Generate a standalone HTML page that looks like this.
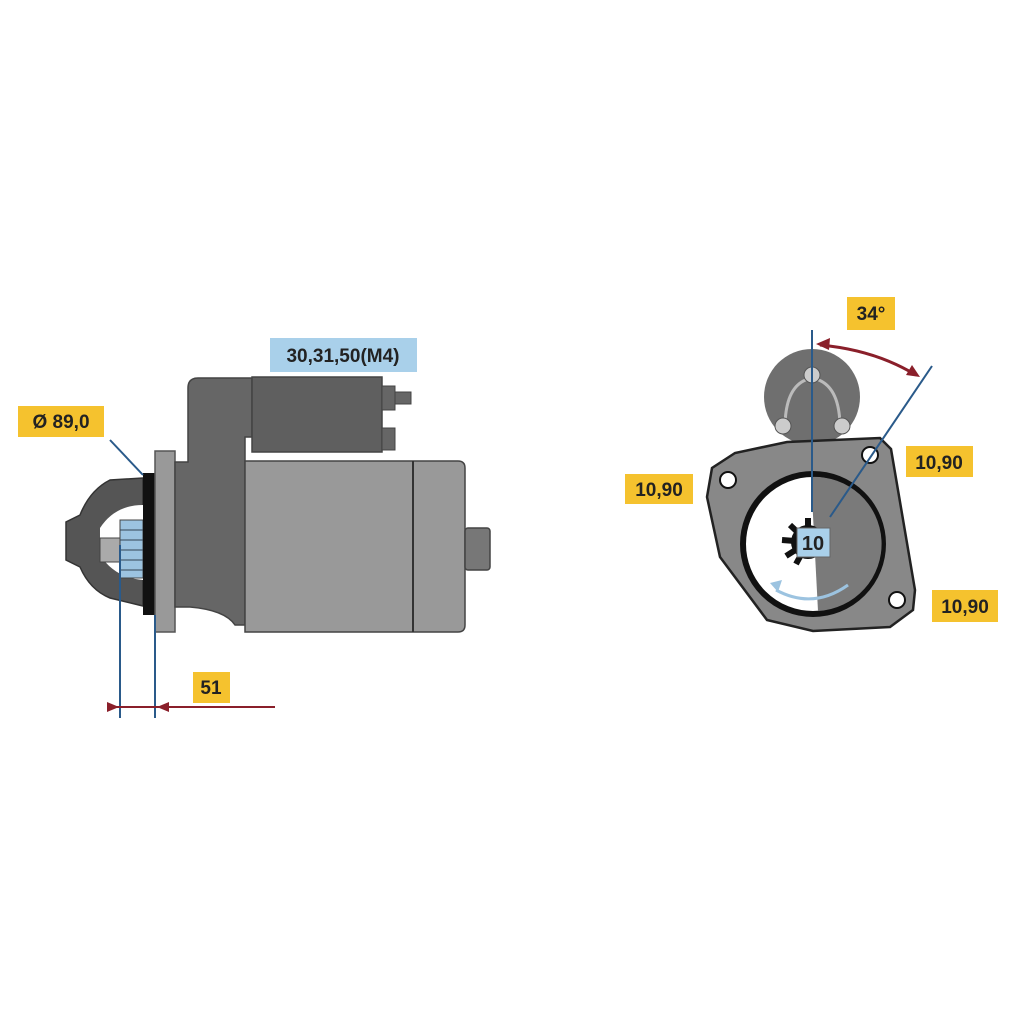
<!DOCTYPE html>
<html><head><meta charset="utf-8"><style>
html,body{margin:0;padding:0;background:#fff;}
svg{display:block;}
text{font-family:"Liberation Sans",sans-serif;font-weight:bold;fill:#222;}
</style></head><body>
<svg width="1024" height="1024" viewBox="0 0 1024 1024" xmlns="http://www.w3.org/2000/svg">
<path d="M143,478 L110,480 Q90,490 80,515 L66,522 L66,560 L80,567 Q90,590 110,598 L143,606 Z" fill="#555" stroke="#333" stroke-width="1.5"/>
<path d="M143,505 Q115,505 100,528 L100,555 Q115,578 143,580 Z" fill="#fff"/>
<rect x="100" y="538" width="22" height="24" fill="#aaa" stroke="#444"/>
<rect x="120" y="520" width="23" height="58" fill="#9cc3e0" stroke="#444" stroke-width="1"/>
<g stroke="#345" stroke-width="1"><line x1="120" y1="530" x2="143" y2="530"/><line x1="120" y1="540" x2="143" y2="540"/><line x1="120" y1="550" x2="143" y2="550"/><line x1="120" y1="560" x2="143" y2="560"/><line x1="120" y1="570" x2="143" y2="570"/></g>
<rect x="143" y="473" width="12" height="142" fill="#111"/>
<rect x="155" y="451" width="20" height="181" fill="#999" stroke="#555" stroke-width="1.5"/>
<path d="M175,462 L188,462 L188,388 Q188,378 198,378 L252,378 L252,437 L245,437 L245,625 L235,625 Q225,610 190,607 L175,607 Z" fill="#666" stroke="#444" stroke-width="1.5"/>
<rect x="252" y="377" width="130" height="75" fill="#5f5f5f" stroke="#444" stroke-width="1.5"/>
<rect x="382" y="386" width="13" height="24" fill="#666" stroke="#444"/>
<rect x="395" y="392" width="16" height="12" fill="#666" stroke="#444"/>
<rect x="382" y="428" width="13" height="22" fill="#666" stroke="#444"/>
<path d="M245,461 L458,461 Q465,461 465,468 L465,625 Q465,632 458,632 L245,632 Z" fill="#999" stroke="#444" stroke-width="1.5"/>
<line x1="413" y1="461" x2="413" y2="632" stroke="#333" stroke-width="2"/>
<rect x="465" y="528" width="25" height="42" rx="3" fill="#777" stroke="#444" stroke-width="1.5"/>
<line x1="110" y1="440" x2="143" y2="475" stroke="#2a5a8a" stroke-width="2"/>
<line x1="120" y1="545" x2="120" y2="718" stroke="#2a5a8a" stroke-width="2"/>
<line x1="155" y1="615" x2="155" y2="718" stroke="#2a5a8a" stroke-width="2"/>
<line x1="107" y1="707" x2="275" y2="707" stroke="#8a1f2a" stroke-width="2"/>
<path d="M107,702 L107,712 L119,707 Z" fill="#8a1f2a"/>
<path d="M157,707 L169,702 L169,712 Z" fill="#8a1f2a"/>
<rect x="270" y="338" width="147" height="34" fill="#a9d0ea"/>
<text x="343" y="362" font-size="19" text-anchor="middle">30,31,50(M4)</text>
<rect x="18" y="406" width="86" height="31" fill="#f5c22e"/>
<text x="61" y="428" font-size="19" text-anchor="middle">Ø 89,0</text>
<rect x="193" y="672" width="37" height="31" fill="#f5c22e"/>
<text x="211" y="694" font-size="19" text-anchor="middle">51</text>

<circle cx="812" cy="397" r="48" fill="#6f6f6f"/>
<path d="M785,428 Q785,383 812,378 Q840,383 840,428" fill="none" stroke="#bbb" stroke-width="3"/>
<circle cx="812" cy="375" r="8" fill="#ccc" stroke="#555"/>
<circle cx="783" cy="426" r="8" fill="#ccc" stroke="#555"/>
<circle cx="842" cy="426" r="8" fill="#ccc" stroke="#555"/>
<path d="M707,497 L712,468 L735,453 L787,442 L880,438 L891,449 L915,590 L913,610 L890,627 L813,631 L767,620 L720,557 Z" fill="#888" stroke="#222" stroke-width="2.5"/>
<circle cx="813" cy="544" r="70" fill="#fff" stroke="#111" stroke-width="6"/>
<path d="M811,477 A67,67 0 0 1 818,611 Z" fill="#7a7a7a"/>
<path d="M776,590 Q813,610 848,585" fill="none" stroke="#9cc3e0" stroke-width="3"/>
<path d="M770,583 L782,580 L778,592 Z" fill="#9cc3e0"/>
<circle cx="808" cy="542" r="17" fill="#111"/>
<g stroke="#111" stroke-width="6">
<line x1="808" y1="542" x2="808" y2="518"/><line x1="808" y1="542" x2="790" y2="525"/><line x1="808" y1="542" x2="782" y2="540"/><line x1="808" y1="542" x2="786" y2="556"/><line x1="808" y1="542" x2="796" y2="564"/>
</g>
<circle cx="728" cy="480" r="8" fill="#fff" stroke="#111" stroke-width="2"/>
<circle cx="870" cy="455" r="8" fill="#fff" stroke="#111" stroke-width="2"/>
<circle cx="897" cy="600" r="8" fill="#fff" stroke="#111" stroke-width="2"/>
<rect x="797" y="528" width="33" height="29" fill="#a9d0ea" stroke="#666"/>
<text x="813" y="550" font-size="20" text-anchor="middle" font-weight="normal">10</text>
<line x1="812" y1="330" x2="812" y2="512" stroke="#2a5a8a" stroke-width="2"/>
<line x1="932" y1="366" x2="830" y2="517" stroke="#2a5a8a" stroke-width="2"/>
<path d="M820,345 Q875,350 916,375" fill="none" stroke="#8a1f2a" stroke-width="3"/>
<path d="M816,344 L830,338 L829,350 Z" fill="#8a1f2a"/>
<path d="M920,377 L906,375 L912,365 Z" fill="#8a1f2a"/>
<rect x="847" y="297" width="48" height="33" fill="#f5c22e"/>
<text x="871" y="320" font-size="19" text-anchor="middle">34°</text>
<rect x="625" y="474" width="68" height="30" fill="#f5c22e"/>
<text x="659" y="496" font-size="19" text-anchor="middle">10,90</text>
<rect x="906" y="446" width="67" height="31" fill="#f5c22e"/>
<text x="939" y="469" font-size="19" text-anchor="middle">10,90</text>
<rect x="932" y="590" width="66" height="32" fill="#f5c22e"/>
<text x="965" y="613" font-size="19" text-anchor="middle">10,90</text>
</svg>
</body></html>
